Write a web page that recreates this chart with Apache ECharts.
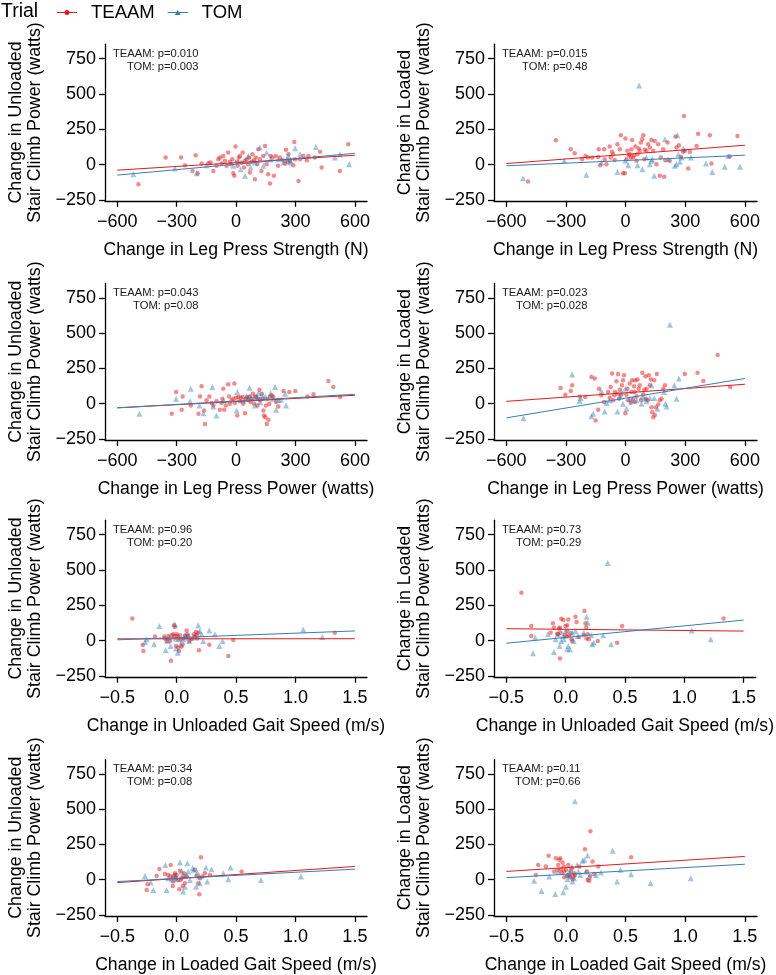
<!DOCTYPE html>
<html><head><meta charset="utf-8">
<script src="https://cdn.jsdelivr.net/npm/echarts@6/dist/echarts.min.js"></script>
<style>html,body{margin:0;padding:0;background:#fff}#c{width:776px;height:975px}</style>
</head><body><div id="c"></div>
<script>
// ---------- DATA ----------
const legPressTicks = [-600, -300, 0, 300, 600];
const gaitTicks = [-0.5, 0, 0.5, 1, 1.5];
const yTicks = [-250, 0, 250, 500, 750];

const xNames = [
  'Change in Leg Press Strength (N)', 'Change in Leg Press Strength (N)',
  'Change in Leg Press Power (watts)', 'Change in Leg Press Power (watts)',
  'Change in Unloaded Gait Speed (m/s)', 'Change in Unloaded Gait Speed (m/s)',
  'Change in Loaded Gait Speed (m/s)', 'Change in Loaded Gait Speed (m/s)'
];
const yNames = [
  'Change in Unloaded\nStair Climb Power (watts)', 'Change in Loaded\nStair Climb Power (watts)'
];
const pTEAAM = ['0.010', '0.015', '0.043', '0.023', '0.96', '0.73', '0.34', '0.11'];
const pTOM = ['0.003', '0.48', '0.08', '0.028', '0.20', '0.29', '0.08', '0.66'];

// regression line values at the ends of the x range
const fitXEnds = [[-600, 600], [-600, 600], [-600, 600], [-600, 600], [-0.5, 1.5], [-0.5, 1.5], [-0.5, 1.5], [-0.5, 1.5]];
const fitTEAAM = [[-40, 66], [7, 137], [-29, 60], [17, 138], [12, 13], [84, 67], [-20, 94], [59, 165]];
const fitTOM = [[-75, 80], [-9, 66], [-29, 67], [-100, 179], [5, 68], [-19, 145], [-13, 75], [15, 110]];

const p1TEAAM = [[-493,-139],[-356,50],[-278,50],[-258,-5],[-220,-45],[-204,66],[-194,-61],[-174,7],[-140,9],[-129,14],[-115,-45],[-99,-9],[-90,38],[-82,50],[-73,7],[-65,61],[-56,26],[-48,-9],[-40,85],[-31,19],[-26,2],[-19,38],[-14,-61],[-9,-80],[-3,127],[3,19],[8,-9],[14,50],[19,61],[28,14],[33,85],[40,-21],[45,26],[53,38],[61,2],[66,50],[70,-57],[78,19],[83,73],[90,31],[95,-104],[100,50],[107,2],[112,108],[120,38],[128,-45],[137,61],[146,132],[154,2],[162,-68],[171,-134],[174,61],[184,50],[191,-80],[201,61],[212,-9],[222,50],[235,31],[247,7],[252,104],[259,19],[264,73],[272,26],[289,-5],[294,160],[298,38],[315,-116],[323,38],[340,61],[357,31],[365,61],[398,50],[424,90],[432,-21],[524,-45],[566,144]];
const p1TOM = [[-519,-68],[-309,-28],[-199,-61],[-149,-5],[-14,-9],[11,26],[23,-33],[45,-80],[61,61],[73,-21],[95,14],[120,120],[137,-9],[154,85],[174,38],[212,38],[239,14],[256,38],[264,61],[272,14],[275,26],[298,116],[323,73],[403,125],[499,50],[524,73],[571,2]];

const p2TEAAM = [[-491,-120],[-351,172],[-276,108],[-256,80],[-219,38],[-202,61],[-189,50],[-168,50],[-138,54],[-135,108],[-128,-5],[-108,108],[-105,38],[-96,2],[-80,127],[-75,50],[-68,90],[-63,73],[-55,33],[-41,144],[-29,108],[-24,207],[-13,-61],[-4,-61],[-1,184],[4,38],[9,97],[16,66],[21,73],[26,50],[29,108],[33,174],[38,50],[43,66],[49,127],[55,26],[60,73],[66,113],[71,97],[77,156],[84,179],[89,207],[94,38],[96,104],[105,97],[113,144],[122,120],[130,174],[139,97],[147,167],[155,2],[164,144],[172,-80],[177,50],[189,108],[194,-87],[200,31],[211,156],[222,26],[251,198],[256,120],[268,137],[278,54],[289,90],[294,344],[298,97],[315,-28],[323,90],[357,132],[365,219],[424,207],[432,7],[524,57],[563,203]];
const p2TOM = [[-516,-97],[-309,26],[-198,-73],[-122,14],[-41,-52],[-1,26],[13,-5],[60,-5],[68,561],[84,-33],[105,50],[122,2],[130,26],[134,38],[144,-80],[198,179],[214,38],[248,-9],[256,2],[261,207],[265,73],[273,19],[281,50],[290,113],[328,50],[404,7],[436,-52],[499,-16],[516,61],[575,-16]];

const p3TEAAM = [[-303,83],[-325,-71],[-270,52],[-275,-43],[-229,-12],[-190,-71],[-182,52],[-174,124],[-162,-48],[-157,-143],[-149,24],[-135,52],[-123,5],[-115,-12],[-99,17],[-82,-43],[-74,5],[-69,36],[-65,107],[-60,-43],[-52,-12],[-40,138],[-35,52],[-31,0],[-23,24],[-14,36],[-9,143],[-6,5],[0,43],[6,-83],[11,48],[19,17],[23,43],[33,48],[36,0],[45,-67],[50,36],[56,48],[63,24],[68,52],[74,12],[80,36],[85,71],[91,0],[96,52],[101,48],[108,-12],[112,36],[118,100],[121,24],[130,71],[135,36],[138,-48],[141,-83],[147,-95],[151,-12],[155,-143],[158,36],[163,-114],[168,0],[171,52],[180,60],[188,48],[202,12],[213,-19],[239,90],[269,83],[299,90],[360,52],[391,67],[466,162],[491,119],[525,48]];
const p3TOM = [[-488,-71],[-303,36],[-229,107],[-232,17],[-185,-12],[-165,-67],[-120,119],[-115,-19],[-99,-83],[-65,24],[3,-48],[6,83],[36,24],[53,52],[68,114],[74,48],[96,-12],[104,52],[113,76],[121,12],[130,60],[147,52],[175,76],[185,36],[197,119],[202,-43],[213,29],[227,29],[247,71],[252,-12]];

const p4TEAAM = [[-327,112],[-303,64],[-276,90],[-269,131],[-231,52],[-203,48],[-172,190],[-155,179],[-151,-119],[-134,107],[-138,-43],[-122,60],[-108,12],[-88,83],[-80,43],[-75,119],[-68,214],[-63,24],[-57,60],[-54,83],[-46,160],[-41,71],[-38,210],[-33,36],[-29,100],[-24,60],[-18,131],[-13,167],[-8,202],[-1,-67],[4,64],[9,107],[13,24],[21,143],[26,5],[29,83],[33,167],[38,36],[43,124],[46,12],[46,83],[49,167],[55,52],[60,171],[66,107],[71,131],[77,24],[84,219],[89,67],[94,100],[100,195],[103,36],[105,107],[111,24],[117,202],[122,131],[127,171],[130,-24],[134,-60],[139,-95],[144,167],[147,-79],[152,-24],[157,210],[164,-5],[172,24],[181,36],[189,107],[198,131],[298,210],[362,219],[391,162],[463,345],[526,119]];
const p4TOM = [[-514,-102],[-269,207],[-231,19],[-226,40],[-172,-88],[-163,-71],[-122,90],[-105,-55],[-96,5],[-80,24],[-41,-55],[-29,52],[-21,83],[-13,0],[-1,107],[4,-36],[21,36],[33,24],[55,24],[80,0],[84,52],[96,36],[105,17],[122,40],[130,131],[144,40],[160,-36],[194,83],[200,0],[206,-19],[223,560],[245,131],[256,36],[268,179]];

const p5TEAAM = [[-0.374,157],[-0.287,-31],[-0.281,-74],[-0.183,28],[-0.105,28],[-0.099,14],[-0.085,-3],[-0.071,32],[-0.057,-3],[-0.049,-144],[-0.043,37],[-0.029,44],[-0.023,108],[-0.020,32],[-0.015,96],[-0.006,-38],[-0.001,44],[0.008,32],[0.013,-50],[0.019,-74],[0.027,37],[0.033,9],[0.041,-43],[0.050,-26],[0.069,32],[0.083,72],[0.089,44],[0.097,32],[0.106,-3],[0.125,9],[0.145,44],[0.153,28],[0.162,61],[0.167,37],[0.173,14],[0.181,56],[0.187,-69],[0.274,-29],[0.434,-109],[0.476,4],[1.331,56]];
const p5TOM = [[-0.267,-10],[-0.253,9],[-0.191,-26],[-0.146,103],[-0.093,-69],[-0.079,-3],[-0.065,21],[-0.051,-38],[-0.015,115],[-0.009,14],[-0.006,-57],[0.008,-86],[0.013,9],[0.033,-26],[0.055,9],[0.069,21],[0.069,37],[0.089,32],[0.106,-3],[0.139,21],[0.181,108],[0.195,68],[0.209,44],[0.223,-3],[0.274,72],[0.322,44],[0.358,-38],[0.386,-3],[1.065,79],[1.225,25]];

const p6TEAAM = [[-0.373,338],[-0.29,103],[-0.29,32],[-0.127,56],[-0.107,122],[-0.099,91],[-0.071,49],[-0.065,44],[-0.057,86],[-0.048,91],[-0.048,-127],[-0.043,56],[-0.037,155],[-0.020,145],[-0.006,37],[-0.001,103],[0.008,28],[0.013,108],[0.013,68],[0.022,150],[0.027,32],[0.041,51],[0.050,9],[0.055,-3],[0.083,169],[0.092,131],[0.112,25],[0.153,37],[0.159,209],[0.167,122],[0.173,94],[0.176,14],[0.187,44],[0.195,9],[0.271,-3],[0.434,-15],[0.476,103],[1.331,157]];
const p6TOM = [[-0.275,-90],[-0.258,21],[-0.149,44],[-0.099,-81],[-0.085,9],[-0.065,44],[-0.051,-38],[-0.037,-3],[-0.023,32],[-0.015,9],[-0.001,68],[0.013,-62],[0.022,-38],[0.036,-62],[0.055,56],[0.069,-3],[0.083,68],[0.103,32],[0.153,56],[0.176,169],[0.187,126],[0.215,37],[0.223,-26],[0.237,-15],[0.316,37],[0.355,550],[0.383,-26],[1.063,72],[1.223,9]];

const p7TEAAM = [[-0.253,-72],[-0.245,-32],[-0.169,27],[-0.146,77],[-0.099,41],[-0.071,34],[-0.051,105],[-0.051,23],[-0.034,-44],[-0.029,-13],[-0.029,23],[-0.015,46],[-0.015,34],[-0.006,11],[-0.001,34],[0.013,-1],[0.022,-68],[0.027,63],[0.033,-1],[0.041,11],[0.050,-44],[0.055,23],[0.061,46],[0.069,-25],[0.083,23],[0.153,70],[0.167,27],[0.181,-25],[0.190,-103],[0.195,11],[0.204,160],[0.218,23],[0.237,46],[0.279,34],[0.546,58]];
const p7TOM = [[-0.267,27],[-0.219,-20],[-0.197,-72],[-0.096,105],[-0.085,-72],[-0.071,11],[-0.043,4],[-0.015,23],[-0.001,4],[0.027,122],[0.041,58],[0.055,-84],[0.069,-49],[0.083,34],[0.089,117],[0.097,58],[0.111,-1],[0.134,82],[0.145,70],[0.162,-49],[0.173,51],[0.190,23],[0.195,-25],[0.246,87],[0.257,-13],[0.293,75],[0.392,46],[0.434,4],[0.454,87],[0.709,-1],[1.046,23]];

const p8TEAAM = [[-0.253,34],[-0.233,105],[-0.169,94],[-0.146,170],[-0.099,58],[-0.085,153],[-0.071,70],[-0.065,105],[-0.057,141],[-0.048,153],[-0.043,75],[-0.037,51],[-0.029,122],[-0.020,94],[-0.015,18],[-0.015,58],[-0.001,70],[0.013,27],[0.019,105],[0.027,34],[0.036,23],[0.041,58],[0.047,82],[0.055,4],[0.064,23],[0.069,46],[0.075,34],[0.112,94],[0.159,217],[0.176,58],[0.181,-1],[0.195,-8],[0.204,343],[0.204,27],[0.223,129],[0.237,41],[0.271,94],[0.546,160]];
const p8TOM = [[-0.268,-8],[-0.206,-79],[-0.141,23],[-0.090,-101],[-0.065,58],[-0.023,-89],[-0.001,-49],[0.008,34],[0.013,4],[0.027,58],[0.036,23],[0.050,94],[0.055,-13],[0.069,11],[0.075,556],[0.092,105],[0.103,58],[0.120,34],[0.139,134],[0.153,141],[0.167,58],[0.181,172],[0.195,23],[0.251,34],[0.293,51],[0.392,205],[0.428,-13],[0.456,70],[0.546,39],[0.709,-25],[1.046,11]];

const teaamSets = [p1TEAAM, p2TEAAM, p3TEAAM, p4TEAAM, p5TEAAM, p6TEAAM, p7TEAAM, p8TEAAM];
const tomSets = [p1TOM, p2TOM, p3TOM, p4TOM, p5TOM, p6TOM, p7TOM, p8TOM];

// ---------- STYLE / LAYOUT ----------
const FONT = "'Liberation Sans', Arial, sans-serif";
const RED = '#E41A1C', BLUE = '#377EB8';
const colLeft = [105, 494], colWidth = [262, 263];
const rowTop = [44.2, 283.4, 520.2, 759.4], rowHeight = 156.6;
const legRange = [-662, 661], gaitRange = [-0.604, 1.602], yRange = [-257, 853];

const minusFmt = (v, dec) => {
  const s = dec ? Math.abs(v).toFixed(dec) : String(Math.abs(v));
  return (v < -1e-9 ? '\u2212' : '') + s;
};

const ANN_FONT = "11.2px 'Liberation Sans', Arial";
const mctx = document.createElement('canvas').getContext('2d');
mctx.font = ANN_FONT;

const grids = [], xAxes = [], yAxes = [], series = [], graphics = [];
for (let i = 0; i < 8; i++) {
  const r = Math.floor(i / 2), c = i % 2;
  const isLeg = r < 2;
  const left = colLeft[c], top = rowTop[r];
  grids.push({ left: left, top: top, width: colWidth[c], height: rowHeight, containLabel: false });
  xAxes.push({
    type: 'value', gridIndex: i,
    min: isLeg ? legRange[0] : gaitRange[0], max: isLeg ? legRange[1] : gaitRange[1],
    name: xNames[i], nameLocation: 'middle', nameGap: 40,
    nameTextStyle: { fontFamily: FONT, fontSize: 17.6, color: '#000', lineHeight: 18 },
    axisLine: { onZero: false, lineStyle: { color: '#000', width: 1.3 } },
    axisTick: { show: true, length: 6, customValues: isLeg ? legPressTicks : gaitTicks, lineStyle: { color: '#000', width: 1.3 } },
    axisLabel: { customValues: isLeg ? legPressTicks : gaitTicks, margin: 12, fontFamily: FONT, fontSize: 18, color: '#000',
      formatter: v => isLeg ? minusFmt(v, 0) : minusFmt(v, 1) },
    splitLine: { show: false }
  });
  yAxes.push({
    type: 'value', gridIndex: i, min: yRange[0], max: yRange[1],
    name: yNames[c], nameLocation: 'middle', nameGap: 61, nameRotate: 90,
    nameTextStyle: { fontFamily: FONT, fontSize: 17.8, color: '#000', lineHeight: 18.5 },
    axisLine: { onZero: false, lineStyle: { color: '#000', width: 1.3 } },
    axisTick: { show: true, length: 6, customValues: yTicks, lineStyle: { color: '#000', width: 1.3 } },
    axisLabel: { customValues: yTicks, margin: 9, fontFamily: FONT, fontSize: 18, color: '#000',
      formatter: v => minusFmt(v, 0) },
    splitLine: { show: false }
  });
  series.push({
    name: 'TEAAM', type: 'scatter', xAxisIndex: i, yAxisIndex: i, data: teaamSets[i],
    symbol: 'circle', symbolSize: 4.5, itemStyle: { color: RED, opacity: 0.5 }, z: 2
  });
  series.push({
    name: 'TOM', type: 'scatter', xAxisIndex: i, yAxisIndex: i, data: tomSets[i],
    symbol: 'triangle', symbolSize: 6, itemStyle: { color: BLUE, opacity: 0.45 }, z: 2
  });
  series.push({
    name: 'TEAAM', type: 'line', xAxisIndex: i, yAxisIndex: i, symbol: 'none',
    data: [[fitXEnds[i][0], fitTEAAM[i][0]], [fitXEnds[i][1], fitTEAAM[i][1]]],
    lineStyle: { color: RED, width: 1 }, itemStyle: { color: RED }, z: 3
  });
  series.push({
    name: 'TOM', type: 'line', xAxisIndex: i, yAxisIndex: i, symbol: 'none',
    data: [[fitXEnds[i][0], fitTOM[i][0]], [fitXEnds[i][1], fitTOM[i][1]]],
    lineStyle: { color: BLUE, width: 1 }, itemStyle: { color: BLUE }, z: 3
  });
  const l1 = 'TEAAM: p=' + pTEAAM[i];
  const w1 = mctx.measureText(l1).width;
  graphics.push({
    type: 'text', x: left + 8 + w1, y: top + 3.5,
    style: { text: l1 + '\nTOM: p=' + pTOM[i], align: 'right', verticalAlign: 'top',
      font: ANN_FONT, lineHeight: 12.7, fill: '#1a1a1a' }
  });
}

const chart = echarts.init(document.getElementById('c'), null, { renderer: 'canvas' });
chart.setOption({
  animation: false,
  backgroundColor: '#fff',
  title: { text: 'Trial', left: 1, top: 2, padding: 0,
    textStyle: { fontFamily: FONT, fontSize: 19.5, fontWeight: 'normal', color: '#000' } },
  legend: {
    left: 57, top: 3, padding: 0, itemWidth: 20, itemHeight: 5, itemGap: 13,
    textStyle: { fontFamily: FONT, fontSize: 18.5, color: '#000', padding: [0, 0, 0, 9] },
    data: [
      { name: 'TEAAM', icon: 'path://M0,4.5H20V5.5H0Z M12.5,5A2.5,2.5 0 1 1 7.5,5A2.5,2.5 0 1 1 12.5,5Z', itemStyle: { color: RED, opacity: 1 } },
      { name: 'TOM', icon: 'path://M0,4.5H20V5.5H0Z M10,2.5L12.9,7.5H7.1Z', itemStyle: { color: BLUE, opacity: 1 } }
    ]
  },
  grid: grids, xAxis: xAxes, yAxis: yAxes, series: series, graphic: graphics
});
</script></body></html>
